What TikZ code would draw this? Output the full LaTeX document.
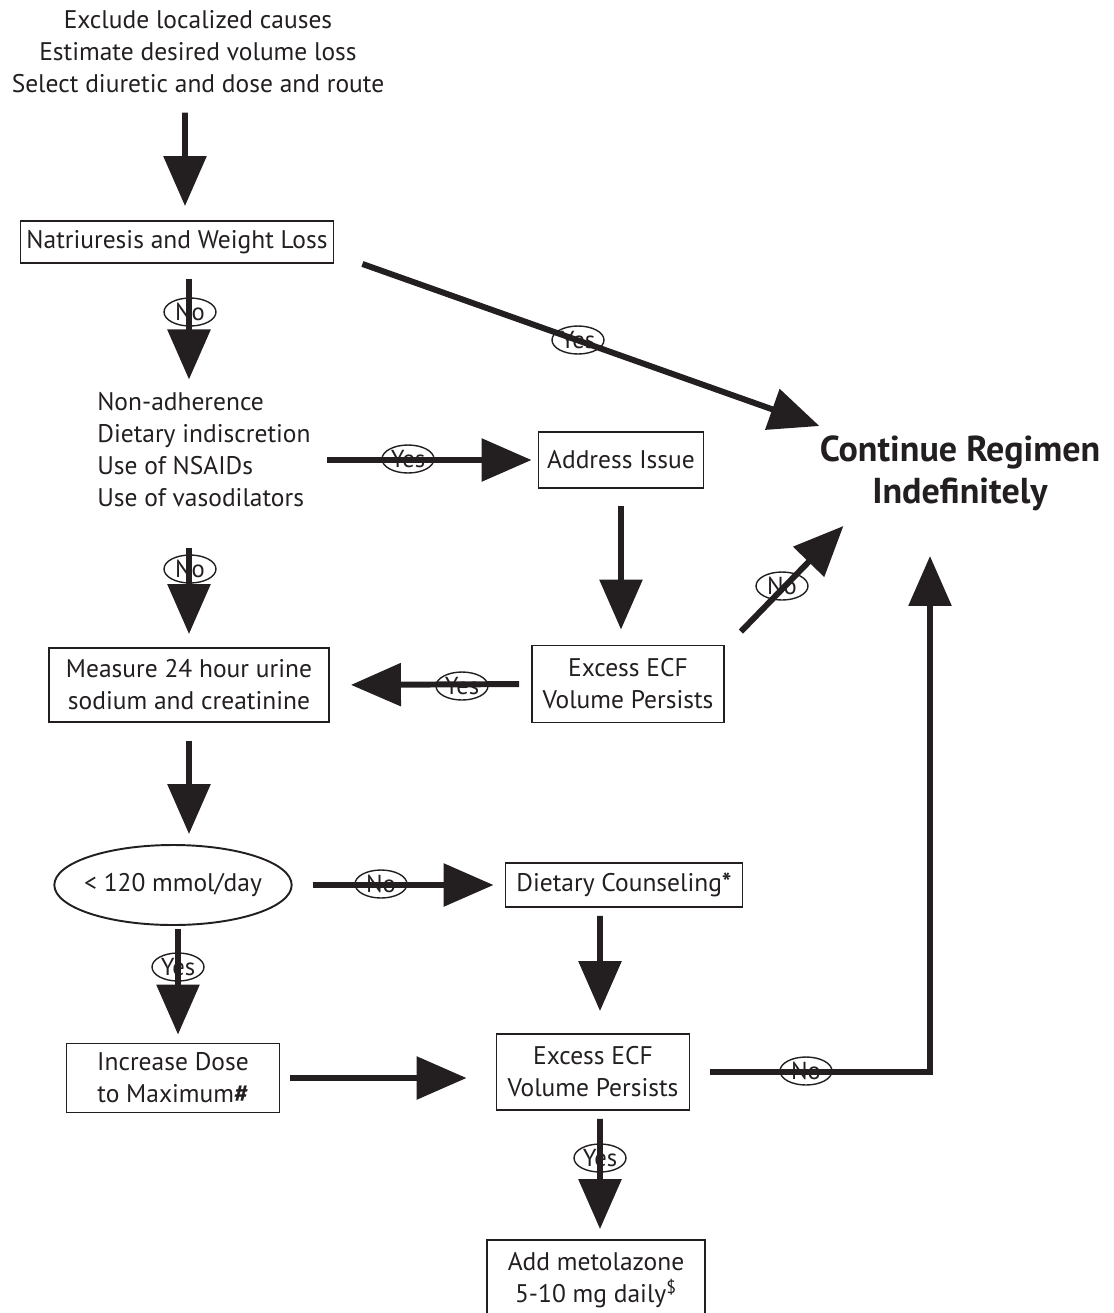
\documentclass[tikz,border=0pt]{standalone}
\usepackage{fontspec}
\setmainfont{PT Sans}
\usepackage{tikz}
\usetikzlibrary{arrows.meta,shapes.geometric}
\definecolor{ink}{RGB}{35,31,32}

\begin{document}
\begin{tikzpicture}[x=0.02cm, y=-0.02cm, font=\fontsize{14.5}{18.2}\selectfont, color=ink, >={Triangle[length=1cm, width=0.84cm]}]
\tikzstyle{bx}=[draw, line width=1.1pt, inner sep=0pt, align=center]
\tikzstyle{lab}=[draw, ellipse, line width=0.8pt, inner sep=0pt, minimum width=1.04cm, minimum height=0.56cm, font=\fontsize{14}{16}\selectfont]
\tikzstyle{arr}=[->, line width=3.4pt]
\useasboundingbox (0,0) rectangle (1114,1313);
% steps
\node[align=center, inner sep=0pt] (top) at (198,52) {Exclude localized causes\\Estimate desired volume loss\\Select diuretic and dose and route};
\node[bx, minimum width=6.26cm, minimum height=0.84cm] (nat) at (177,242) {Natriuresis and Weight Loss};
\node[align=left, anchor=west, inner sep=0pt] (list) at (97,450) {Non-adherence\\Dietary indiscretion\\Use of NSAIDs\\Use of vasodilators};
\node[bx, minimum width=3.3cm, minimum height=1.12cm] (addr) at (621,460) {Address Issue};
\node[align=center, inner sep=0pt, font=\fontsize{20.5}{24}\selectfont\bfseries] (cont) at (960,473) {Continue Regimen\\Indefinitely};
\node[bx, minimum width=3.84cm, minimum height=1.54cm] (ecf1) at (628,684) {Excess ECF\\Volume Persists};
\node[bx, minimum width=5.6cm, minimum height=1.48cm] (meas) at (189,685) {Measure 24 hour urine\\sodium and creatinine};
\node[draw, ellipse, line width=1.1pt, inner xsep=-0.1cm, inner ysep=0pt, minimum height=1.6cm] (rate) at (173,885) {< 120 mmol/day};
\node[bx, minimum width=4.74cm, minimum height=0.88cm] (diet) at (624,885) {Dietary Counseling\textbf{*}};
\node[bx, minimum width=4.26cm, minimum height=1.38cm] (inc) at (173,1078) {Increase Dose\\to Maximum\textbf{\#}};
\node[bx, minimum width=3.86cm, minimum height=1.52cm] (ecf2) at (593,1072) {Excess ECF\\Volume Persists};
\node[bx, minimum width=4.36cm, minimum height=1.6cm] (add) at (596,1280) {Add metolazone\\5-10 mg daily\textsuperscript{\$}};
% connectors
\draw[arr, shorten <=0.38cm, shorten >=0.28cm] ([xshift=-0.26cm]top.south) -- ([xshift=0.16cm]nat.north);
\draw[arr, shorten <=0.3cm, shorten >=0.26cm] (nat.south -| meas) -- (list.north -| meas);
\draw[arr] ([xshift=0.56cm]nat.south east) -- ([yshift=0.18cm]cont.north west);
\draw[arr, shorten <=0.32cm, shorten >=0.12cm] (list.east |- addr.west) -- (addr.west);
\draw[arr, shorten <=0.34cm, shorten >=0.3cm] (addr.south) -- (addr.south |- ecf1.north);
\draw[arr] ([shift={(0.32cm,0.26cm)}]ecf1.north east) -- ([shift={(0.48cm,-0.3cm)}]cont.south west);
\draw[arr, shorten <=0.24cm, shorten >=0.42cm] (ecf1.west) -- (meas.east);
\draw[arr, shorten <=0.8cm, shorten >=0.26cm] (list.south -| meas) -- (meas.north);
\draw[arr, shorten <=0.36cm, shorten >=0.2cm] (meas.south) -- (rate.north -| meas);
\draw[arr, shorten <=0.4cm, shorten >=0.22cm] (rate.east) -- (diet.west);
\draw[arr, shorten <=0.06cm, shorten >=0.16cm] ([xshift=0.1cm]rate.south) -- ([xshift=0.1cm]inc.north);
\draw[arr, shorten <=0.2cm, shorten >=0.58cm] (inc.east) -- (inc.east -| ecf2.west);
\draw[arr, shorten <=0.16cm, shorten >=0.44cm] ([xshift=-0.48cm]diet.south) -- ([xshift=0.14cm]ecf2.north);
\draw[arr, shorten <=0.16cm, shorten >=0.2cm] ([xshift=0.14cm]ecf2.south) -- ([xshift=0.08cm]add.north);
\draw[arr, shorten <=0.4cm, shorten >=0.9cm] (ecf2.east) -| ([xshift=-0.6cm]cont.south);
% yes / no tags
\node[lab] (no1) at (190,312) {No};
\node[lab] (yes1) at (578,340) {Yes};
\node[lab] (yes2) at (408,459) {Yes};
\node[lab] (no2) at (190,569) {No};
\node[lab] (no3) at (782,586) {No};
\node[lab] (yes3) at (462,686) {Yes};
\node[lab] (no4) at (381,884) {No};
\node[lab] (yes4) at (178,967) {Yes};
\node[lab] (no5) at (806,1071) {No};
\node[lab] (yes5) at (600,1158) {Yes};
\end{tikzpicture}
\end{document}
